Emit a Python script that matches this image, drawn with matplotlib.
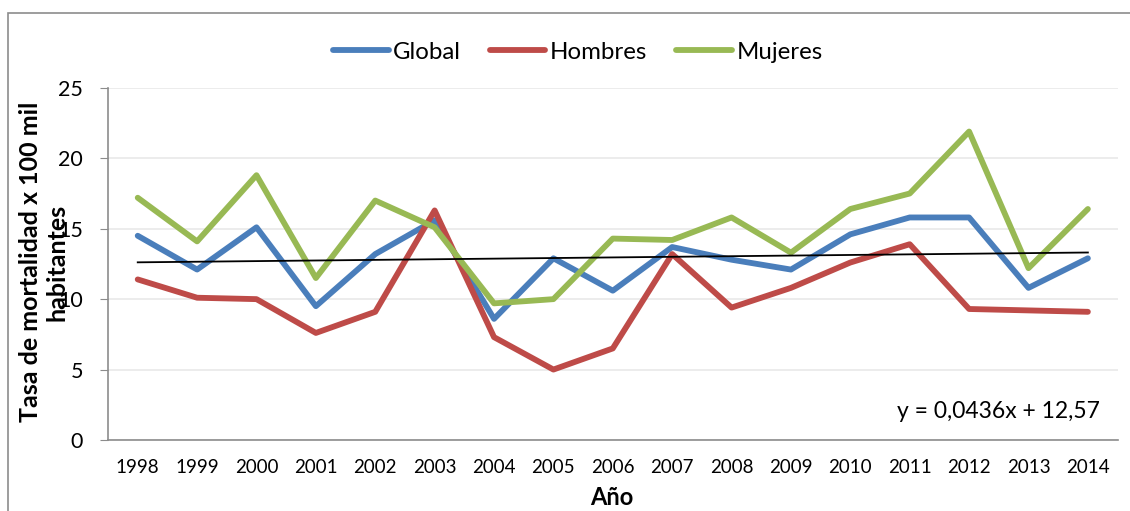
import numpy as np
import matplotlib.pyplot as plt
import matplotlib.patches as mpatches

plt.rcParams['font.family'] = ['Lato', 'DejaVu Sans']

years = ['1998', '1999', '2000', '2001', '2002', '2003', '2004', '2005', '2006',
         '2007', '2008', '2009', '2010', '2011', '2012', '2013', '2014']
glob = [14.5, 12.1, 15.1, 9.5, 13.2, 15.6, 8.6, 12.9, 10.6,
        13.7, 12.8, 12.1, 14.6, 15.8, 15.8, 10.8, 12.9]
hombres = [11.4, 10.1, 10.0, 7.6, 9.1, 16.3, 7.3, 5.0, 6.5,
           13.2, 9.4, 10.8, 12.6, 13.9, 9.3, 9.2, 9.1]
mujeres = [17.2, 14.1, 18.8, 11.5, 17.0, 15.1, 9.7, 10.0, 14.3,
           14.2, 15.8, 13.3, 16.4, 17.5, 21.9, 12.2, 16.4]
# linear trend as printed on the chart (x = 1..17)
slope = 0.0436
intercept = 12.57

fig = plt.figure(figsize=(11.3, 5.11), dpi=100)
ax = fig.add_axes([0.0956, 0.139, 0.989 - 0.0956, 0.828 - 0.139])

# outer chart border (cropped on the right and bottom)
fig.patches.append(mpatches.Rectangle((8 / 1130, -0.05), 1.2, 1 - 13 / 511 + 0.05,
                                      transform=fig.transFigure, fill=False,
                                      edgecolor='#8c8c8c', linewidth=1.2))

x = np.arange(len(years))
ax.plot(x, glob, color='#4a7ebb', linewidth=4.2, label='Global', solid_capstyle='round')
ax.plot(x, hombres, color='#be4b48', linewidth=4.2, label='Hombres', solid_capstyle='round')
ax.plot(x, mujeres, color='#98b954', linewidth=4.2, label='Mujeres', solid_capstyle='round')

xt = x + 1
ax.plot(x, slope * xt + intercept, color='black', linewidth=1.3)

ax.set_xlim(-0.5, 16.5)
ax.set_ylim(0, 25)
ax.set_yticks([0, 5, 10, 15, 20, 25])
ax.set_xticks(x)
ax.set_xticklabels(years)
ax.tick_params(axis='y', labelsize=15.5, length=6, color='#8c8c8c', pad=12)
ax.tick_params(axis='x', labelsize=13.5, length=0, pad=14)
ax.grid(axis='y', color='#ebebeb', linewidth=1.3)
ax.set_axisbelow(True)
for s in ['top', 'right']:
    ax.spines[s].set_visible(False)
ax.spines['left'].set_color('#8c8c8c')
ax.spines['bottom'].set_color('#8c8c8c')
ax.spines['left'].set_linewidth(1.2)
ax.spines['bottom'].set_linewidth(1.2)

fig.text(612 / 1130, 1 - 497 / 511, 'Año', ha='center', va='center',
         fontsize=17, fontweight='bold')
fig.text(44 / 1130, 1 - 262 / 511, 'Tasa de mortalidad x 100 mil\nhabitantes', rotation=90,
         ha='center', va='center', fontsize=18, fontweight='bold', linespacing=1.2,
         multialignment='center')

ax.text(0.982, 0.08, 'y = 0,0436x + 12,57', transform=ax.transAxes, ha='right',
        va='center', fontsize=16.5)

ax.legend(loc='center', bbox_to_anchor=(578 / 1130, 1 - 52 / 511),
          bbox_transform=fig.transFigure, ncol=3, frameon=False, fontsize=17.3,
          handlelength=2.3, handletextpad=0.2, columnspacing=1.2)

plt.savefig('out.png', dpi=100)
